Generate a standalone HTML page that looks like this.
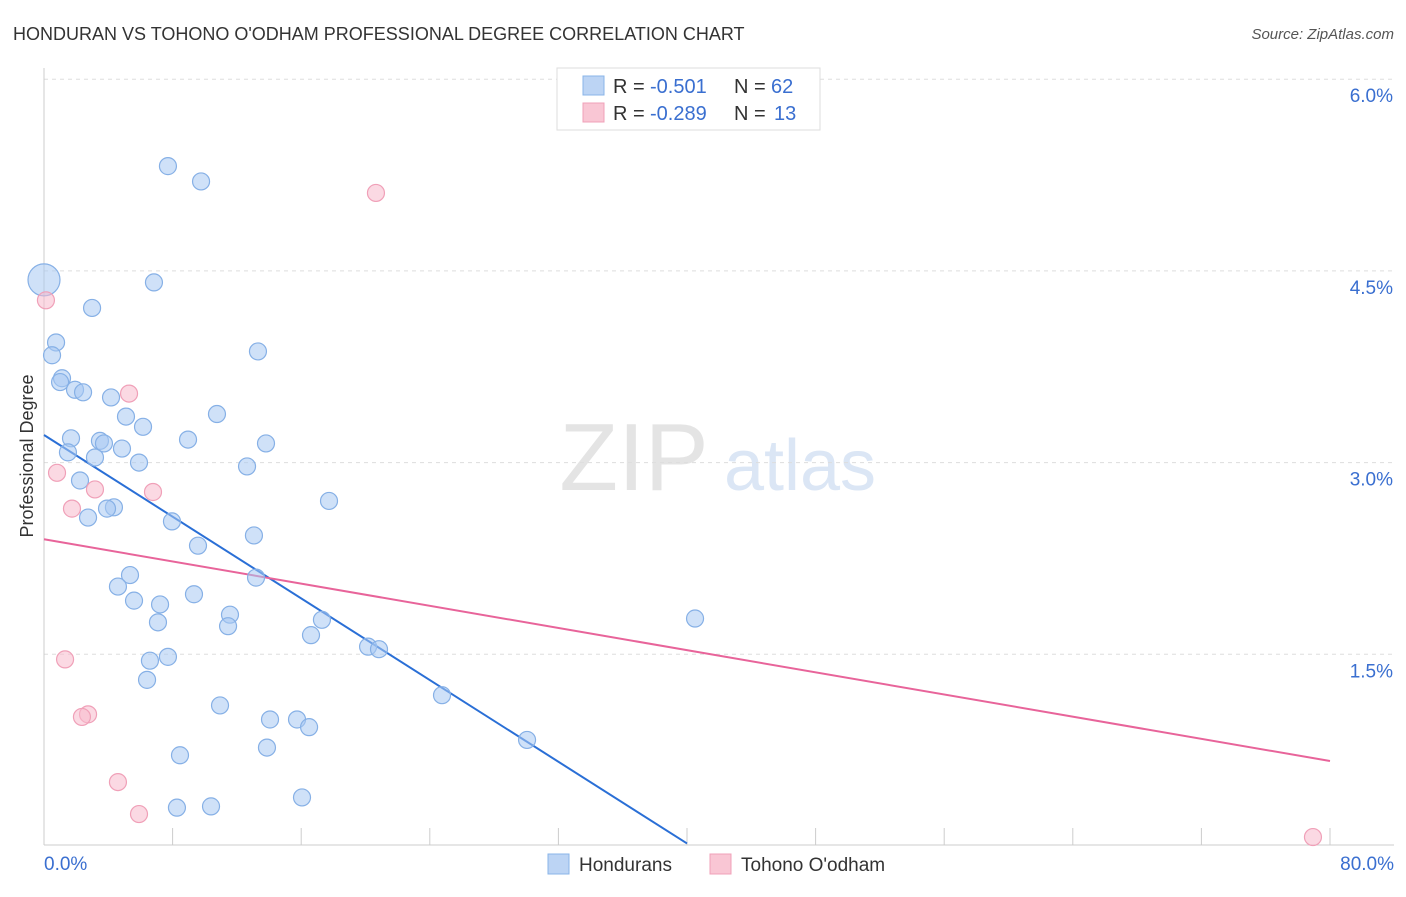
<!DOCTYPE html>
<html><head><meta charset="utf-8"><style>
body{margin:0;background:#fff;font-family:"Liberation Sans",sans-serif;}
svg text{font-family:"Liberation Sans",sans-serif;}
</style></head><body>
<svg id="chart" width="1406" height="892" viewBox="0 0 1406 892" xmlns="http://www.w3.org/2000/svg">
<text x="13" y="40" font-size="18" fill="#333">HONDURAN VS TOHONO O'ODHAM PROFESSIONAL DEGREE CORRELATION CHART</text>
<text x="1394" y="39" font-size="15" fill="#555" font-style="italic" text-anchor="end">Source: ZipAtlas.com</text>
<g>
<text x="634" y="490" font-size="96" fill="#e4e4e4" font-family="Liberation Serif" text-anchor="middle">ZIP</text>
<text x="800" y="490" font-size="72" fill="#dbe6f5" text-anchor="middle">atlas</text>
</g>
<g id="grid"></g>
<g id="axes"></g>
<g id="lines"></g>
<g id="points"></g>
<text transform="translate(33,456) rotate(-90)" font-size="18" fill="#333" text-anchor="middle">Professional Degree</text>
<g>
<rect x="557" y="68" width="263" height="62" fill="#fff" stroke="#ddd"/>
<rect x="583" y="76" width="21" height="19" fill="#bcd4f4" stroke="#8ab4e8"/>
<rect x="583" y="103" width="21" height="19" fill="#f9c6d4" stroke="#f0a0b8"/>
<text x="613" y="93" font-size="20" fill="#333">R =</text>
<text x="650" y="93" font-size="20" fill="#3a6fd0">-0.501</text>
<text x="734" y="93" font-size="20" fill="#333">N =</text>
<text x="771" y="93" font-size="20" fill="#3a6fd0">62</text>
<text x="613" y="120" font-size="20" fill="#333">R =</text>
<text x="650" y="120" font-size="20" fill="#3a6fd0">-0.289</text>
<text x="734" y="120" font-size="20" fill="#333">N =</text>
<text x="774" y="120" font-size="20" fill="#3a6fd0">13</text>
</g>
<g>
<rect x="548" y="854" width="21" height="20" fill="#bcd4f4" stroke="#8ab4e8"/>
<text x="579" y="871" font-size="19" fill="#333">Hondurans</text>
<rect x="710" y="854" width="21" height="20" fill="#f9c6d4" stroke="#f0a0b8"/>
<text x="741" y="871" font-size="19" fill="#333">Tohono O'odham</text>
</g>
</svg>
<script>
const xTicks=[0,8,16,24,32,40,48,56,64,72,80];
const yTicks=[1.5,3.0,4.5,6.0];
const yTickLabels=["1.5%","3.0%","4.5%","6.0%"];
const xTickLabels=["0.0%","80.0%"];
const hondX=[0,0.75,0.5,1.12,1.0,1.93,2.43,2.99,4.17,5.1,6.16,1.68,3.48,3.73,4.85,1.49,3.17,5.91,2.24,4.35,3.92,2.74,7.71,9.77,6.84,13.31,10.76,8.96,13.81,12.63,17.73,7.96,13.06,9.58,5.35,13.19,4.6,9.33,5.6,7.22,11.57,7.09,11.45,17.29,16.61,20.16,20.84,7.71,6.59,6.41,24.76,10.95,14.06,15.74,16.49,30.05,13.87,8.46,16.05,10.39,8.27,40.5];
const hondY=[4.43,3.94,3.84,3.66,3.63,3.57,3.55,4.21,3.51,3.36,3.28,3.19,3.17,3.15,3.11,3.08,3.04,3.0,2.86,2.65,2.64,2.57,5.32,5.2,4.41,3.87,3.38,3.18,3.15,2.97,2.7,2.54,2.43,2.35,2.12,2.1,2.03,1.97,1.92,1.89,1.81,1.75,1.72,1.77,1.65,1.56,1.54,1.48,1.45,1.3,1.18,1.1,0.99,0.99,0.93,0.83,0.77,0.71,0.38,0.31,0.3,1.78];
const tohoX=[0.12,20.65,5.29,0.81,3.17,6.78,1.74,1.31,2.74,2.36,4.6,5.91,78.94];
const tohoY=[4.27,5.11,3.54,2.92,2.79,2.77,2.64,1.46,1.03,1.01,0.5,0.25,0.07];
const hondTrend=[[0,3.216],[40,0.02]];
const tohoTrend=[[0,2.40],[80,0.665]];
const NS="http://www.w3.org/2000/svg";
const X=v=>44+v*16.075, Y=v=>846-v*127.8;
function mk(tag,attrs,parent){const e=document.createElementNS(NS,tag);for(const k in attrs)e.setAttribute(k,attrs[k]);parent.appendChild(e);return e;}
const grid=document.getElementById('grid'),axes=document.getElementById('axes'),lines=document.getElementById('lines'),pts=document.getElementById('points');
yTicks.forEach((t,i)=>{
 const l=mk('line',{x1:44,x2:1394,y1:Y(t),y2:Y(t),stroke:'#ddd','stroke-dasharray':'4,4'},grid);
 
 
 const tx=mk('text',{x:1393,y:Y(t)+23,'font-size':19,fill:'#3a6fd0','text-anchor':'end'},axes);
 tx.textContent=yTickLabels[i];
 
 
});
mk('line',{x1:44,x2:44,y1:68,y2:845,stroke:'#ccc'},axes);
mk('line',{x1:44,x2:1394,y1:845,y2:845,stroke:'#ccc'},axes);
xTicks.forEach(t=>{
 const l=mk('line',{x1:X(t),x2:X(t),y1:828,y2:845,stroke:'#ccc'},axes);
 
 
});
[[0,'start',44],[80,'end',1394]].forEach((a,i)=>{
 const tx=mk('text',{x:a[2],y:870,'font-size':19,fill:'#3a6fd0','text-anchor':a[1]},axes);
 tx.textContent=xTickLabels[i];
 
 
});
hondX.forEach((x,i)=>{
 const c=mk('circle',{cx:X(x),cy:Y(hondY[i]),r:i===0?16:8.5,fill:'rgba(168,200,242,0.55)',stroke:'#86b0e6','stroke-width':1.2},pts);
 
 
});
tohoX.forEach((x,i)=>{
 const c=mk('circle',{cx:X(x),cy:Y(tohoY[i]),r:8.5,fill:'rgba(248,186,204,0.55)',stroke:'#f0a0b8','stroke-width':1.2},pts);
 
 
});
const l1=mk('line',{x1:X(hondTrend[0][0]),y1:Y(hondTrend[0][1]),x2:X(hondTrend[1][0]),y2:Y(hondTrend[1][1]),stroke:'#2a6fd6','stroke-width':2},lines);


const l2=mk('line',{x1:X(tohoTrend[0][0]),y1:Y(tohoTrend[0][1]),x2:X(tohoTrend[1][0]),y2:Y(tohoTrend[1][1]),stroke:'#e8649a','stroke-width':2},lines);


</script>
</body></html>
